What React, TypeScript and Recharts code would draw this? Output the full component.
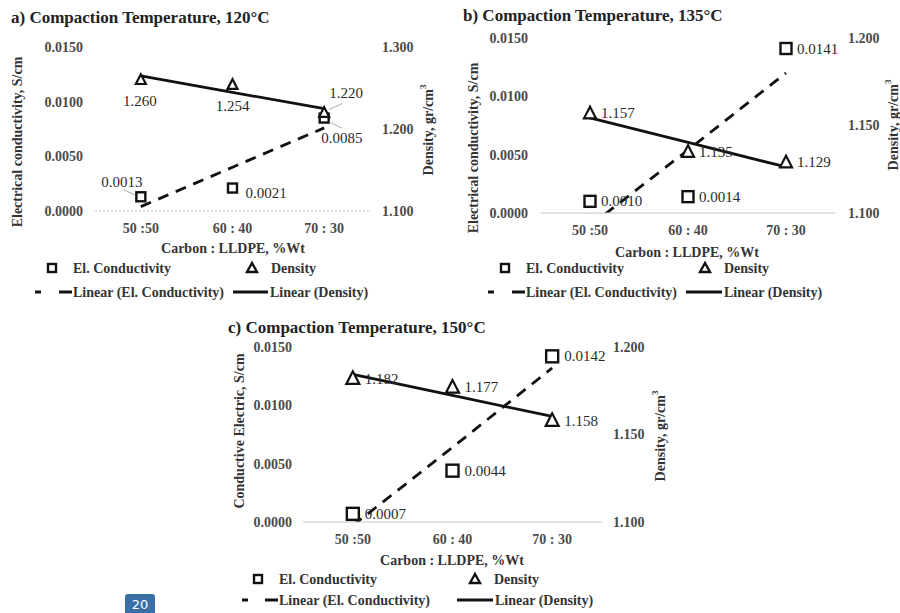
import { ComposedChart, LabelList, Line, XAxis, YAxis } from 'recharts'

const CATEGORIES = ['50 :50', '60 : 40', '70 : 30']

// a) 120°C
const A_COND = [0.0013, 0.0021, 0.0085]
const A_DENS = [1.26, 1.254, 1.22]
const A_COND_TREND = [0.0004, 0.004, 0.0076]
const A_DENS_TREND = [1.2647, 1.2447, 1.2247]

// b) 135°C
const B_COND = [0.001, 0.0014, 0.0141]
const B_DENS = [1.157, 1.135, 1.129]
const B_COND_TREND = [-0.0011, 0.0054, 0.012]
const B_DENS_TREND = [1.1543, 1.1403, 1.1263]

// c) 150°C
const C_COND = [0.0007, 0.0044, 0.0142]
const C_DENS = [1.182, 1.177, 1.158]
const C_COND_TREND = [-0.0003, 0.0064, 0.0132]
const C_DENS_TREND = [1.1843, 1.1723, 1.1603]

const COND_TICKS = [0, 0.005, 0.01, 0.015]
const DENS_TICKS_A = [1.1, 1.2, 1.3]
const DENS_TICKS_BC = [1.1, 1.15, 1.2]

const SERIF = "'Liberation Serif', 'Times New Roman', serif"
const INK = '#111'
const TICK = { fontSize: 14, fontWeight: 700, fill: '#4a4a4a', fontFamily: SERIF }

type LabelPos = { dx: number; dy: number; anchor?: 'start' | 'middle'; lead?: number[] }

const RIGHT = (dx: number): LabelPos[] => [0, 1, 2].map(() => ({ dx, dy: 0 }))

const A_COND_LABELS: LabelPos[] = [
  { dx: -19, dy: -15, anchor: 'middle', lead: [-17, -7, -6, -2] },
  { dx: 13, dy: 5 },
  { dx: -3, dy: 20, lead: [5, 4, 18, 10] },
]
const A_DENS_LABELS: LabelPos[] = [
  { dx: -1, dy: 21, anchor: 'middle' },
  { dx: 0, dy: 21, anchor: 'middle' },
  { dx: 5, dy: -20, lead: [5, -3, 18, -9] },
]

function squareDot(size: number) {
  return (p: any) => (
    <rect
      key={`s${p.index}`}
      x={p.cx - size / 2}
      y={p.cy - size / 2}
      width={size}
      height={size}
      fill="#fff"
      stroke={INK}
      strokeWidth={2.4}
    />
  )
}

function triangleDot(size: number) {
  return (p: any) => (
    <polygon
      key={`t${p.index}`}
      points={`${p.cx},${p.cy - size * 0.55} ${p.cx - size / 2},${p.cy + size * 0.42} ${p.cx + size / 2},${p.cy + size * 0.42}`}
      fill="#fff"
      stroke={INK}
      strokeWidth={2.2}
      strokeLinejoin="miter"
    />
  )
}

function labelContent(pos: LabelPos[], digits: number) {
  return (p: any) => {
    const vb = p.viewBox || {}
    const x = p.x ?? vb.x
    const y = p.y ?? vb.y
    const o = pos[p.index] || { dx: 10, dy: 0 }
    if (x == null || y == null) return null
    return (
      <g key={`l${p.index}`}>
        {o.lead && (
          <line
            x1={x + o.lead[0]}
            y1={y + o.lead[1]}
            x2={x + o.lead[2]}
            y2={y + o.lead[3]}
            stroke="#aaa"
            strokeWidth={1}
          />
        )}
        <text
          x={x + o.dx}
          y={y + o.dy}
          textAnchor={o.anchor || 'start'}
          dominantBaseline="central"
          fontFamily={SERIF}
          fontSize={15}
          fill="#2a2a2a"
        >
          {Number(p.value).toFixed(digits)}
        </text>
      </g>
    )
  }
}

type PanelProps = {
  box: { x: number; y: number; w: number; h: number }
  plot: { l: number; r: number; t: number; b: number }
  cond: number[]
  dens: number[]
  condTrend: number[]
  densTrend: number[]
  densDomain: [number, number]
  densTicks: number[]
  tickGap: number
  marker: number
  condLabels: LabelPos[]
  densLabels: LabelPos[]
  baseDash?: string
}

function Panel(props: PanelProps) {
  const { box, plot } = props
  const AW = 50
  const XH = 30
  const rows = CATEGORIES.map((cat, i) => ({
    cat,
    cond: props.cond[i],
    dens: props.dens[i],
    condTrend: props.condTrend[i],
    densTrend: props.densTrend[i],
  }))
  const pad = (plot.r - plot.l) / 6
  return (
    <div style={{ position: 'absolute', left: box.x, top: box.y }}>
      <ComposedChart
        width={box.w}
        height={box.h}
        data={rows}
        margin={{
          left: plot.l - box.x - AW,
          right: box.x + box.w - plot.r - AW,
          top: plot.t - box.y,
          bottom: box.y + box.h - plot.b - XH,
        }}
      >
        <XAxis
          dataKey="cat"
          scale="point"
          padding={{ left: pad, right: pad }}
          height={XH}
          interval={0}
          tickLine={false}
          tickMargin={6}
          axisLine={{ stroke: '#c4c4c4', strokeWidth: 1, strokeDasharray: props.baseDash }}
          tick={TICK}
        />
        <YAxis
          yAxisId="c"
          width={AW}
          domain={[0, 0.015]}
          ticks={COND_TICKS}
          allowDataOverflow
          axisLine={false}
          tickLine={false}
          tickMargin={props.tickGap - 6}
          tickFormatter={(v: number) => v.toFixed(4)}
          tick={TICK}
        />
        <YAxis
          yAxisId="d"
          orientation="right"
          width={AW}
          domain={props.densDomain}
          ticks={props.densTicks}
          allowDataOverflow
          axisLine={false}
          tickLine={false}
          tickMargin={props.tickGap - 6}
          tickFormatter={(v: number) => v.toFixed(3)}
          tick={TICK}
        />
        <Line
          yAxisId="c"
          dataKey="cond"
          stroke="none"
          dot={squareDot(props.marker)}
          activeDot={false}
          isAnimationActive={false}
        >
          <LabelList dataKey="cond" content={labelContent(props.condLabels, 4)} />
        </Line>
        <Line
          yAxisId="d"
          dataKey="dens"
          stroke="none"
          dot={triangleDot(props.marker + 1)}
          activeDot={false}
          isAnimationActive={false}
        >
          <LabelList dataKey="dens" content={labelContent(props.densLabels, 3)} />
        </Line>
        <Line
          yAxisId="c"
          dataKey="condTrend"
          type="linear"
          stroke={INK}
          strokeWidth={2.8}
          strokeDasharray="11 8"
          dot={false}
          activeDot={false}
          isAnimationActive={false}
        />
        <Line
          yAxisId="d"
          dataKey="densTrend"
          type="linear"
          stroke={INK}
          strokeWidth={2.8}
          dot={false}
          activeDot={false}
          isAnimationActive={false}
        />
      </ComposedChart>
    </div>
  )
}

const TEXT = { fontFamily: SERIF, fontWeight: 700, fill: '#333' }

function Annotations(p: {
  title: string
  titleX: number
  titleY: number
  leftTitle: string
  left: [number, number]
  right: [number, number]
  xTitle: [number, number]
  row1: number
  row2: number
  sq: number
  tri: number
  dash: [number, number]
  solid: [number, number]
}) {
  return (
    <g>
      <text x={p.titleX} y={p.titleY} dominantBaseline="central" fontSize={17} {...TEXT} fill="#222">
        {p.title}
      </text>
      <text
        transform={`translate(${p.left[0]},${p.left[1]}) rotate(-90)`}
        textAnchor="middle"
        dominantBaseline="central"
        fontSize={14}
        {...TEXT}
      >
        {p.leftTitle}
      </text>
      <text
        transform={`translate(${p.right[0]},${p.right[1]}) rotate(-90)`}
        textAnchor="middle"
        dominantBaseline="central"
        fontSize={14}
        {...TEXT}
      >
        Density, gr/cm<tspan fontSize={9} dy={-5}>3</tspan>
      </text>
      <text x={p.xTitle[0]} y={p.xTitle[1]} textAnchor="middle" dominantBaseline="central" fontSize={14} {...TEXT}>
        Carbon : LLDPE, %Wt
      </text>
      <rect x={p.sq - 4} y={p.row1 - 4} width={8} height={8} fill="#fff" stroke={INK} strokeWidth={2.4} />
      <text x={p.sq + 21} y={p.row1} dominantBaseline="central" fontSize={14} {...TEXT}>
        El. Conductivity
      </text>
      <polygon
        points={`${p.tri},${p.row1 - 5} ${p.tri - 5},${p.row1 + 4} ${p.tri + 5},${p.row1 + 4}`}
        fill="#fff"
        stroke={INK}
        strokeWidth={2.4}
      />
      <text x={p.tri + 19} y={p.row1} dominantBaseline="central" fontSize={14} {...TEXT}>
        Density
      </text>
      <line x1={p.dash[0]} y1={p.row2} x2={p.dash[0] + 6} y2={p.row2} stroke={INK} strokeWidth={3} />
      <line x1={p.dash[1] - 13} y1={p.row2} x2={p.dash[1]} y2={p.row2} stroke={INK} strokeWidth={3} />
      <text x={p.dash[1] + 1} y={p.row2} dominantBaseline="central" fontSize={14} {...TEXT}>
        Linear (El. Conductivity)
      </text>
      <line x1={p.solid[0]} y1={p.row2} x2={p.solid[1]} y2={p.row2} stroke={INK} strokeWidth={3} />
      <text x={p.solid[1] + 2} y={p.row2} dominantBaseline="central" fontSize={14} {...TEXT}>
        Linear (Density)
      </text>
    </g>
  )
}

export default function App() {
  return (
    <div style={{ position: 'absolute', left: 0, top: 0, width: 900, height: 613, background: '#fff', overflow: 'hidden' }}>
      <Panel
        box={{ x: 0, y: 0, w: 450, h: 310 }}
        plot={{ l: 95, r: 370, t: 47, b: 211 }}
        cond={A_COND}
        dens={A_DENS}
        condTrend={A_COND_TREND}
        densTrend={A_DENS_TREND}
        densDomain={[1.1, 1.3]}
        densTicks={DENS_TICKS_A}
        tickGap={12}
        marker={9}
        condLabels={A_COND_LABELS}
        densLabels={A_DENS_LABELS}
        baseDash="2 2"
      />
      <Panel
        box={{ x: 450, y: 0, w: 450, h: 310 }}
        plot={{ l: 541, r: 835, t: 38, b: 213 }}
        cond={B_COND}
        dens={B_DENS}
        condTrend={B_COND_TREND}
        densTrend={B_DENS_TREND}
        densDomain={[1.1, 1.2]}
        densTicks={DENS_TICKS_BC}
        tickGap={13}
        marker={11}
        condLabels={RIGHT(11)}
        densLabels={RIGHT(11)}
      />
      <Panel
        box={{ x: 200, y: 310, w: 500, h: 303 }}
        plot={{ l: 303, r: 602, t: 347, b: 522 }}
        cond={C_COND}
        dens={C_DENS}
        condTrend={C_COND_TREND}
        densTrend={C_DENS_TREND}
        densDomain={[1.1, 1.2]}
        densTicks={DENS_TICKS_BC}
        tickGap={11}
        marker={12}
        condLabels={RIGHT(12)}
        densLabels={RIGHT(12)}
      />
      <svg width={900} height={613} style={{ position: 'absolute', left: 0, top: 0, pointerEvents: 'none' }}>
        <Annotations
          title="a) Compaction Temperature, 120°C"
          titleX={11}
          titleY={17}
          leftTitle="Electrical conductivity, S/cm"
          left={[17, 142]}
          right={[428, 130]}
          xTitle={[233, 248]}
          row1={268}
          row2={292}
          sq={52}
          tri={252}
          dash={[35, 72]}
          solid={[233, 268]}
        />
        <Annotations
          title="b) Compaction Temperature, 135°C"
          titleX={463}
          titleY={15}
          leftTitle="Electrical conductivity, S/cm"
          left={[473, 148]}
          right={[893, 125]}
          xTitle={[687, 252]}
          row1={268}
          row2={292}
          sq={505}
          tri={705}
          dash={[488, 525]}
          solid={[686, 722]}
        />
        <Annotations
          title="c) Compaction Temperature, 150°C"
          titleX={228}
          titleY={327}
          leftTitle="Conductive Electric, S/cm"
          left={[239, 431]}
          right={[660, 436]}
          xTitle={[452, 560]}
          row1={579}
          row2={600}
          sq={258}
          tri={475}
          dash={[242, 278]}
          solid={[457, 493]}
        />
        <rect x={125} y={594} width={30} height={22} rx={3} fill="#3a6fa5" />
        <text x={140} y={604} textAnchor="middle" dominantBaseline="central" fontFamily="'DejaVu Sans', sans-serif" fontSize={13} fill="#fff">
          20
        </text>
      </svg>
    </div>
  )
}
